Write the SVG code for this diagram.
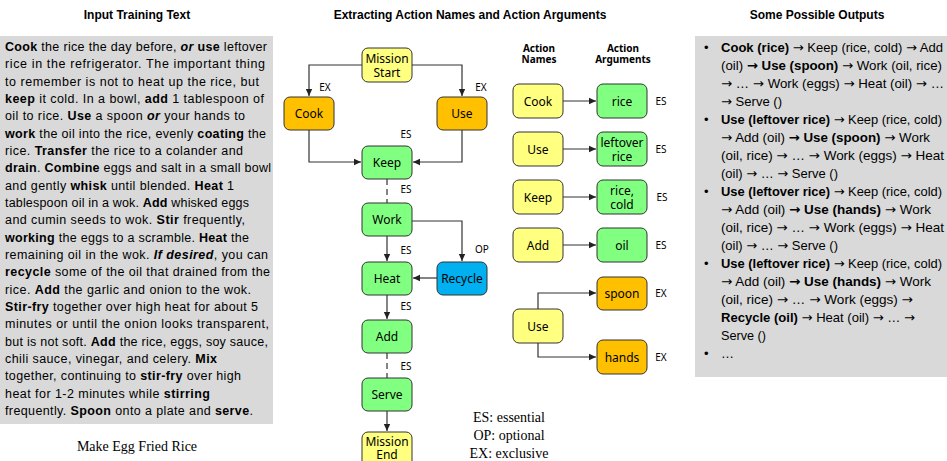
<svg xmlns="http://www.w3.org/2000/svg" width="947" height="461" viewBox="0 0 947 461">
<style>
.title{font-family:"Liberation Sans",Arial,sans-serif;font-weight:bold;font-size:12px;fill:#000;text-anchor:middle}
.body{font-family:"Liberation Sans",Arial,sans-serif;font-size:12.5px;fill:#000}
.out{font-family:"Liberation Sans",Arial,sans-serif;font-size:13px;fill:#000}
.b{font-weight:bold}
.i{font-style:italic}
.ar{font-family:"DejaVu Sans",sans-serif}
.panel{fill:#D9D9D9}
.node rect{stroke:#333;stroke-width:1}
.nt{font-family:"Noto Sans","Open Sans",sans-serif;font-size:12px;fill:#000;text-anchor:middle;dominant-baseline:central}
.lbl{font-family:"Noto Sans","Open Sans",sans-serif;font-size:10px;fill:#000;text-anchor:middle;dominant-baseline:central}
.hdr{font-family:"Noto Sans","Open Sans",sans-serif;font-size:10px;font-weight:bold;fill:#000;text-anchor:middle}
.serif{font-family:"Liberation Serif","Times New Roman",serif;font-size:14px;fill:#000}
.y{fill:#FFFF80}.o{fill:#FFC000}.g{fill:#80FF80}.bl{fill:#00B0F0}
.edge{fill:none;stroke:#333;stroke-width:1.2}
.dash{stroke-dasharray:6,4}
</style>
<defs>
<marker id="arr" markerWidth="8" markerHeight="8" refX="7" refY="4" orient="auto" markerUnits="userSpaceOnUse">
<path d="M0,0.8 L7,4 L0,7.2 Z" fill="#222"/>
</marker>
</defs>

<!-- Titles -->
<text class="title" x="137" y="19">Input Training Text</text>
<text class="title" x="470" y="19">Extracting Action Names and Action Arguments</text>
<text class="title" x="817" y="19">Some Possible Outputs</text>

<!-- Left panel -->
<g id="input-text">
<rect class="panel" x="0" y="36" width="273" height="388"/>
<g class="body">
<text x="5" y="51" textLength="262" lengthAdjust="spacing"><tspan class="b">Cook</tspan> the rice the day before, <tspan class="b i">or</tspan> <tspan class="b">use</tspan> leftover</text>
<text x="5" y="68.3" textLength="260" lengthAdjust="spacing">rice in the refrigerator.  The important thing</text>
<text x="5" y="85.7" textLength="254" lengthAdjust="spacing">to remember is not to heat up the rice, but</text>
<text x="5" y="103" textLength="259" lengthAdjust="spacing"><tspan class="b">keep</tspan> it cold.  In a bowl, <tspan class="b">add</tspan> 1 tablespoon of</text>
<text x="5" y="120.3" textLength="240" lengthAdjust="spacing">oil to rice.  <tspan class="b">Use</tspan> a spoon <tspan class="b i">or</tspan> your hands to</text>
<text x="5" y="137.7" textLength="261" lengthAdjust="spacing"><tspan class="b">work</tspan> the oil into the rice, evenly <tspan class="b">coating</tspan> the</text>
<text x="5" y="155" textLength="238" lengthAdjust="spacing">rice.  <tspan class="b">Transfer</tspan> the rice to a colander and</text>
<text x="5" y="172.3" textLength="266" lengthAdjust="spacing"><tspan class="b">drain</tspan>.  <tspan class="b">Combine</tspan> eggs and salt in a small bowl</text>
<text x="5" y="189.7" textLength="229" lengthAdjust="spacing">and gently <tspan class="b">whisk</tspan> until blended.  <tspan class="b">Heat</tspan> 1</text>
<text x="5" y="207" textLength="244" lengthAdjust="spacing">tablespoon oil in a wok.  <tspan class="b">Add</tspan> whisked eggs</text>
<text x="5" y="224.3" textLength="240" lengthAdjust="spacing">and cumin seeds to wok.  <tspan class="b">Stir</tspan> frequently,</text>
<text x="5" y="241.7" textLength="244" lengthAdjust="spacing"><tspan class="b">working</tspan> the eggs to a scramble.  <tspan class="b">Heat</tspan> the</text>
<text x="5" y="259" textLength="263" lengthAdjust="spacing">remaining oil in the wok.  <tspan class="b i">If desired</tspan>, you can</text>
<text x="5" y="276.3" textLength="265" lengthAdjust="spacing"><tspan class="b">recycle</tspan> some of the oil that drained from the</text>
<text x="5" y="293.7" textLength="246" lengthAdjust="spacing">rice.  <tspan class="b">Add</tspan> the garlic and onion to the wok.</text>
<text x="5" y="311" textLength="253" lengthAdjust="spacing"><tspan class="b">Stir-fry</tspan> together over high heat for about 5</text>
<text x="5" y="328.3" textLength="264" lengthAdjust="spacing">minutes or until the onion looks transparent,</text>
<text x="5" y="345.7" textLength="263" lengthAdjust="spacing">but is not soft.  <tspan class="b">Add</tspan> the rice, eggs, soy sauce,</text>
<text x="5" y="363" textLength="212" lengthAdjust="spacing">chili sauce, vinegar, and celery.  <tspan class="b">Mix</tspan></text>
<text x="5" y="380.3" textLength="236" lengthAdjust="spacing">together, continuing to <tspan class="b">stir-fry</tspan> over high</text>
<text x="5" y="397.7" textLength="205" lengthAdjust="spacing">heat for 1-2 minutes while <tspan class="b">stirring</tspan></text>
<text x="5" y="415" textLength="248" lengthAdjust="spacing">frequently.  <tspan class="b">Spoon</tspan> onto a plate and <tspan class="b">serve</tspan>.</text>
</g>
<text class="serif" x="137" y="451" text-anchor="middle">Make Egg Fried Rice</text>
</g>

<!-- Connectors -->
<g id="connectors">
<path class="edge" d="M362,65 H309 V96" marker-end="url(#arr)"/>
<path class="edge" d="M412,65 H462 V96" marker-end="url(#arr)"/>
<path class="edge" d="M309,130 V162 H361" marker-end="url(#arr)"/>
<path class="edge" d="M462,130 V162 H413" marker-end="url(#arr)"/>
<path class="edge dash" d="M387,179 V203"/>
<path class="edge" d="M387,236 V261" marker-end="url(#arr)"/>
<path class="edge" d="M412,221 H462 V261" marker-end="url(#arr)"/>
<path class="edge" d="M437,278 H413" marker-end="url(#arr)"/>
<path class="edge" d="M387,295 V319" marker-end="url(#arr)"/>
<path class="edge dash" d="M387,353 V378"/>
<path class="edge" d="M387,411 V431" marker-end="url(#arr)"/>
<path class="edge" d="M563,101 H596" marker-end="url(#arr)"/>
<path class="edge" d="M563,149 H596" marker-end="url(#arr)"/>
<path class="edge" d="M563,197 H596" marker-end="url(#arr)"/>
<path class="edge" d="M563,245 H596" marker-end="url(#arr)"/>
<path class="edge" d="M538,309 V293 H596" marker-end="url(#arr)"/>
<path class="edge" d="M538,343 V357 H596" marker-end="url(#arr)"/>
</g>

<!-- Flow nodes -->
<g id="mission-start" class="node"><rect class="y" x="362" y="48" width="50" height="34" rx="6"/><text class="nt" x="387" y="58">Mission</text><text class="nt" x="387" y="72">Start</text></g>
<g id="cook" class="node"><rect class="o" x="284" y="97" width="50" height="33" rx="6"/><text class="nt" x="309" y="113.5">Cook</text></g>
<g id="use" class="node"><rect class="o" x="437" y="97" width="50" height="33" rx="6"/><text class="nt" x="462" y="113.5">Use</text></g>
<g id="keep" class="node"><rect class="g" x="362" y="146" width="50" height="33" rx="6"/><text class="nt" x="387" y="162.5">Keep</text></g>
<g id="work" class="node"><rect class="g" x="362" y="203" width="50" height="33" rx="6"/><text class="nt" x="387" y="219.5">Work</text></g>
<g id="heat" class="node"><rect class="g" x="362" y="262" width="50" height="33" rx="6"/><text class="nt" x="387" y="278.5">Heat</text></g>
<g id="recycle" class="node"><rect class="bl" x="437" y="262" width="50" height="33" rx="6"/><text class="nt" x="462" y="278.5">Recycle</text></g>
<g id="add" class="node"><rect class="g" x="362" y="320" width="50" height="33" rx="6"/><text class="nt" x="387" y="336.5">Add</text></g>
<g id="serve" class="node"><rect class="g" x="362" y="378" width="50" height="33" rx="6"/><text class="nt" x="387" y="394.5">Serve</text></g>
<g id="mission-end" class="node"><rect class="y" x="362" y="432" width="50" height="36" rx="6"/><text class="nt" x="387" y="441">Mission</text><text class="nt" x="387" y="454">End</text></g>

<!-- Flow labels -->
<g id="flow-labels">
<text class="lbl" x="325" y="87">EX</text>
<text class="lbl" x="481" y="87">EX</text>
<text class="lbl" x="406" y="134">ES</text>
<text class="lbl" x="406" y="189">ES</text>
<text class="lbl" x="406" y="250">ES</text>
<text class="lbl" x="482" y="249">OP</text>
<text class="lbl" x="406" y="306">ES</text>
<text class="lbl" x="406" y="366">ES</text>
</g>

<!-- Legend -->
<g id="legend" class="serif" text-anchor="middle">
<text x="509" y="422">ES: essential</text>
<text x="509" y="440">OP: optional</text>
<text x="509" y="458">EX: exclusive</text>
</g>

<!-- Action names / arguments -->
<g id="headers">
<text class="hdr" x="539" y="51.5">Action</text>
<text class="hdr" x="539" y="63">Names</text>
<text class="hdr" x="623" y="51.5">Action</text>
<text class="hdr" x="623" y="63">Arguments</text>
</g>
<g id="an-cook" class="node"><rect class="y" x="513" y="84" width="50" height="34" rx="6"/><text class="nt" x="538" y="101">Cook</text></g>
<g id="aa-rice" class="node"><rect class="g" x="597" y="84" width="50" height="34" rx="6"/><text class="nt" x="622" y="101">rice</text></g>
<g id="an-use" class="node"><rect class="y" x="513" y="132" width="50" height="34" rx="6"/><text class="nt" x="538" y="149">Use</text></g>
<g id="aa-leftover" class="node"><rect class="g" x="597" y="132" width="50" height="34" rx="6"/><text class="nt" x="622" y="142">leftover</text><text class="nt" x="622" y="156.5">rice</text></g>
<g id="an-keep" class="node"><rect class="y" x="513" y="180" width="50" height="34" rx="6"/><text class="nt" x="538" y="197">Keep</text></g>
<g id="aa-ricecold" class="node"><rect class="g" x="597" y="180" width="50" height="34" rx="6"/><text class="nt" x="622" y="190">rice,</text><text class="nt" x="622" y="204.5">cold</text></g>
<g id="an-add" class="node"><rect class="y" x="513" y="228" width="50" height="34" rx="6"/><text class="nt" x="538" y="245">Add</text></g>
<g id="aa-oil" class="node"><rect class="g" x="597" y="228" width="50" height="34" rx="6"/><text class="nt" x="622" y="245">oil</text></g>
<g id="an-use2" class="node"><rect class="y" x="513" y="309" width="50" height="34" rx="6"/><text class="nt" x="538" y="326">Use</text></g>
<g id="aa-spoon" class="node"><rect class="o" x="597" y="277" width="50" height="33" rx="6"/><text class="nt" x="622" y="293.5">spoon</text></g>
<g id="aa-hands" class="node"><rect class="o" x="597" y="340" width="50" height="34" rx="6"/><text class="nt" x="622" y="357">hands</text></g>
<g id="arg-labels">
<text class="lbl" x="661" y="101">ES</text>
<text class="lbl" x="661" y="149">ES</text>
<text class="lbl" x="662" y="197">ES</text>
<text class="lbl" x="661" y="245">ES</text>
<text class="lbl" x="661" y="293">EX</text>
<text class="lbl" x="661" y="357">EX</text>
</g>

<!-- Right panel -->
<g id="outputs">
<rect class="panel" x="695" y="36" width="252" height="341"/>
<g class="out">
<text x="704" y="52">•</text>
<text x="721" y="52" textLength="222" lengthAdjust="spacingAndGlyphs"><tspan class="b">Cook (rice)</tspan> <tspan class="ar">→</tspan> Keep (rice, cold) <tspan class="ar">→</tspan> Add</text>
<text x="721" y="70" textLength="221" lengthAdjust="spacingAndGlyphs">(oil) <tspan class="b"><tspan class="ar">→</tspan> Use (spoon)</tspan> <tspan class="ar">→</tspan> Work (oil, rice)</text>
<text x="721" y="88" textLength="223" lengthAdjust="spacingAndGlyphs"><tspan class="ar">→</tspan> …  <tspan class="ar">→</tspan> Work (eggs) <tspan class="ar">→</tspan> Heat (oil) <tspan class="ar">→</tspan> …</text>
<text x="721" y="106" textLength="61" lengthAdjust="spacingAndGlyphs"><tspan class="ar">→</tspan> Serve ()</text>
<text x="704" y="124">•</text>
<text x="721" y="124" textLength="221" lengthAdjust="spacingAndGlyphs"><tspan class="b">Use (leftover rice)</tspan> <tspan class="ar">→</tspan> Keep (rice, cold)</text>
<text x="721" y="142" textLength="209" lengthAdjust="spacingAndGlyphs"><tspan class="ar">→</tspan> Add (oil) <tspan class="b"><tspan class="ar">→</tspan> Use (spoon)</tspan> <tspan class="ar">→</tspan> Work</text>
<text x="721" y="160" textLength="223" lengthAdjust="spacingAndGlyphs">(oil, rice) <tspan class="ar">→</tspan> …  <tspan class="ar">→</tspan> Work (eggs) <tspan class="ar">→</tspan> Heat</text>
<text x="721" y="178" textLength="117" lengthAdjust="spacingAndGlyphs">(oil) <tspan class="ar">→</tspan> … <tspan class="ar">→</tspan> Serve ()</text>
<text x="704" y="196">•</text>
<text x="721" y="196" textLength="221" lengthAdjust="spacingAndGlyphs"><tspan class="b">Use (leftover rice)</tspan> <tspan class="ar">→</tspan> Keep (rice, cold)</text>
<text x="721" y="214" textLength="210" lengthAdjust="spacingAndGlyphs"><tspan class="ar">→</tspan> Add (oil) <tspan class="b"><tspan class="ar">→</tspan> Use (hands)</tspan> <tspan class="ar">→</tspan> Work</text>
<text x="721" y="232" textLength="223" lengthAdjust="spacingAndGlyphs">(oil, rice) <tspan class="ar">→</tspan> …  <tspan class="ar">→</tspan> Work (eggs) <tspan class="ar">→</tspan> Heat</text>
<text x="721" y="250" textLength="117" lengthAdjust="spacingAndGlyphs">(oil) <tspan class="ar">→</tspan> … <tspan class="ar">→</tspan> Serve ()</text>
<text x="704" y="268">•</text>
<text x="721" y="268" textLength="221" lengthAdjust="spacingAndGlyphs"><tspan class="b">Use (leftover rice)</tspan> <tspan class="ar">→</tspan> Keep (rice, cold)</text>
<text x="721" y="286" textLength="210" lengthAdjust="spacingAndGlyphs"><tspan class="ar">→</tspan> Add (oil) <tspan class="b"><tspan class="ar">→</tspan> Use (hands)</tspan> <tspan class="ar">→</tspan> Work</text>
<text x="721" y="304" textLength="192" lengthAdjust="spacingAndGlyphs">(oil, rice) <tspan class="ar">→</tspan> …  <tspan class="ar">→</tspan> Work (eggs) <tspan class="ar">→</tspan></text>
<text x="721" y="322" textLength="194" lengthAdjust="spacingAndGlyphs"><tspan class="b">Recycle (oil)</tspan> <tspan class="ar">→</tspan> Heat (oil) <tspan class="ar">→</tspan> … <tspan class="ar">→</tspan></text>
<text x="721" y="340" textLength="45" lengthAdjust="spacingAndGlyphs">Serve ()</text>
<text x="704" y="358">•</text>
<text x="721" y="358">…</text>
</g>
</g>
</svg>
